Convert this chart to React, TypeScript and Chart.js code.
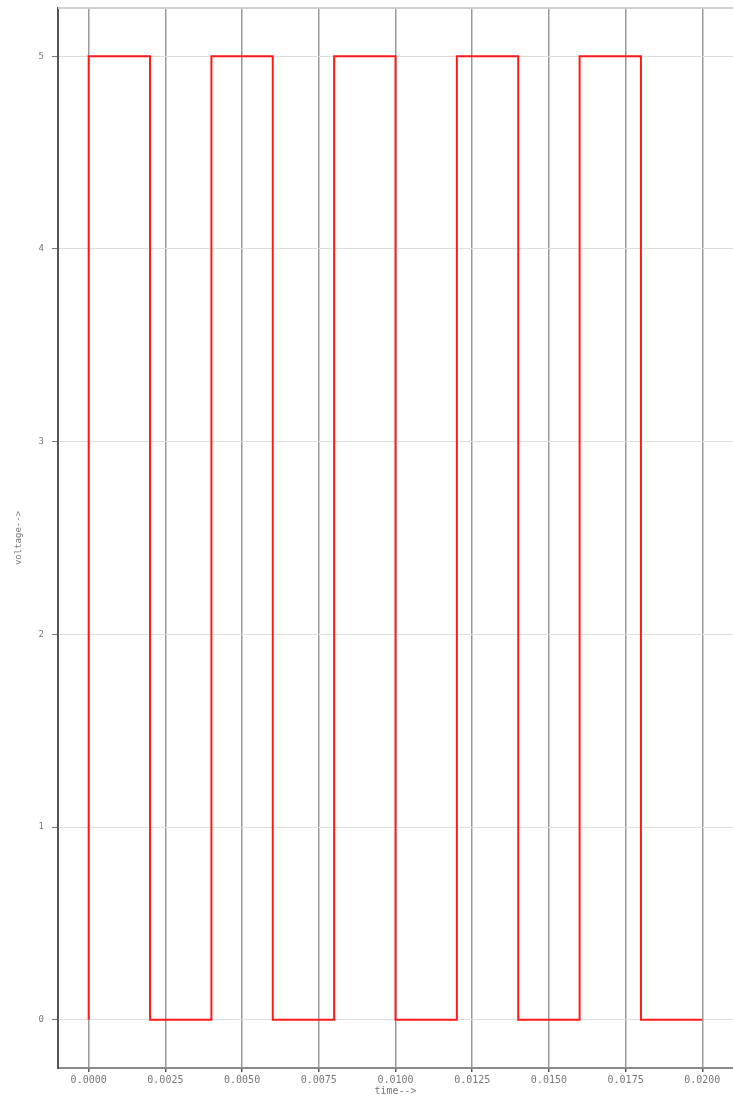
import React, { useEffect, useRef } from "react";
import { Chart, registerables } from "chart.js";

Chart.register(...registerables);

// Square wave: transition times (s) and voltage levels (V)
const times = [0, 0, 0.002, 0.002, 0.004, 0.004, 0.006, 0.006, 0.008, 0.008, 0.010, 0.010, 0.012, 0.012, 0.014, 0.014, 0.016, 0.016, 0.018, 0.018, 0.020];
const voltages = [0, 5, 5, 0, 0, 5, 5, 0, 0, 5, 5, 0, 0, 5, 5, 0, 0, 5, 5, 0, 0];

const xTickValues = [0, 0.0025, 0.005, 0.0075, 0.01, 0.0125, 0.015, 0.0175, 0.02];
const xTickLabels = ["0.0000", "0.0025", "0.0050", "0.0075", "0.0100", "0.0125", "0.0150", "0.0175", "0.0200"];
const yTickValues = [0, 1, 2, 3, 4, 5];

const xTitle = "time-->";
const yTitle = "voltage-->";

const topBorder = {
  id: "topBorder",
  afterDraw(chart: any) {
    const { ctx, chartArea } = chart;
    ctx.save();
    ctx.strokeStyle = "#cfcfcf";
    ctx.lineWidth = 2;
    ctx.beginPath();
    ctx.moveTo(chartArea.left, chartArea.top);
    ctx.lineTo(chartArea.right, chartArea.top);
    ctx.stroke();
    ctx.restore();
  },
};

export default function App() {
  const ref = useRef<HTMLCanvasElement | null>(null);
  useEffect(() => {
    document.body.style.margin = "0";
    const canvas = ref.current!;
    const chart = new Chart(canvas, {
      type: "scatter",
      data: {
        datasets: [
          {
            data: times.map((t, i) => ({ x: t, y: voltages[i] })),
            showLine: true,
            borderColor: "#ff1a1a",
            backgroundColor: "#ff1a1a",
            borderWidth: 2,
            pointRadius: 0,
            tension: 0,
          },
        ],
      },
      plugins: [topBorder],
      options: {
        animation: false,
        responsive: false,
        maintainAspectRatio: false,
        layout: { padding: { top: 8, right: 0, left: 0, bottom: 0 } },
        plugins: { legend: { display: false }, tooltip: { enabled: false } },
        scales: {
          x: {
            type: "linear",
            min: -0.001,
            max: 0.021,
            afterBuildTicks: (scale: any) => {
              scale.ticks = xTickValues.map((v) => ({ value: v }));
            },
            afterFit: (scale: any) => {
              scale.height = 29;
            },
            border: { color: "#8a8a8a", width: 2 },
            grid: { color: "#9a9a9a", lineWidth: 1.5, tickLength: 4, tickColor: "#555" },
            ticks: {
              color: "#777",
              font: { family: "DejaVu Sans Mono", size: 10 },
              padding: 2,
              maxRotation: 0,
              autoSkip: false,
              callback: (v: any) => {
                const i = xTickValues.findIndex((t) => Math.abs(t - v) < 1e-9);
                return i >= 0 ? xTickLabels[i] : "";
              },
            },
            title: {
              display: true,
              text: xTitle,
              color: "#777",
              font: { family: "DejaVu Sans Mono", size: 10 },
              padding: { top: -2, bottom: 0 },
            },
          },
          y: {
            type: "linear",
            min: -0.25,
            max: 5.25,
            afterBuildTicks: (scale: any) => {
              scale.ticks = yTickValues.map((v) => ({ value: v }));
            },
            afterFit: (scale: any) => {
              scale.width = 58;
              scale.paddingTop = 0;
              scale.paddingBottom = 0;
            },
            border: { color: "#555", width: 2 },
            grid: { color: "#dddddd", lineWidth: 1, tickLength: 6, tickColor: "#777" },
            ticks: {
              color: "#777",
              font: { family: "DejaVu Sans Mono", size: 9 },
              padding: 8,
            },
            title: {
              display: true,
              text: yTitle,
              color: "#777",
              font: { family: "DejaVu Sans Mono", size: 9 },
              padding: { top: 13, bottom: 4 },
            },
          },
        },
      },
    });
    return () => chart.destroy();
  }, []);
  return (
    <div style={{ width: 733, height: 1097 }}>
      <canvas ref={ref} width={733} height={1097} style={{ display: "block" }} />
    </div>
  );
}
